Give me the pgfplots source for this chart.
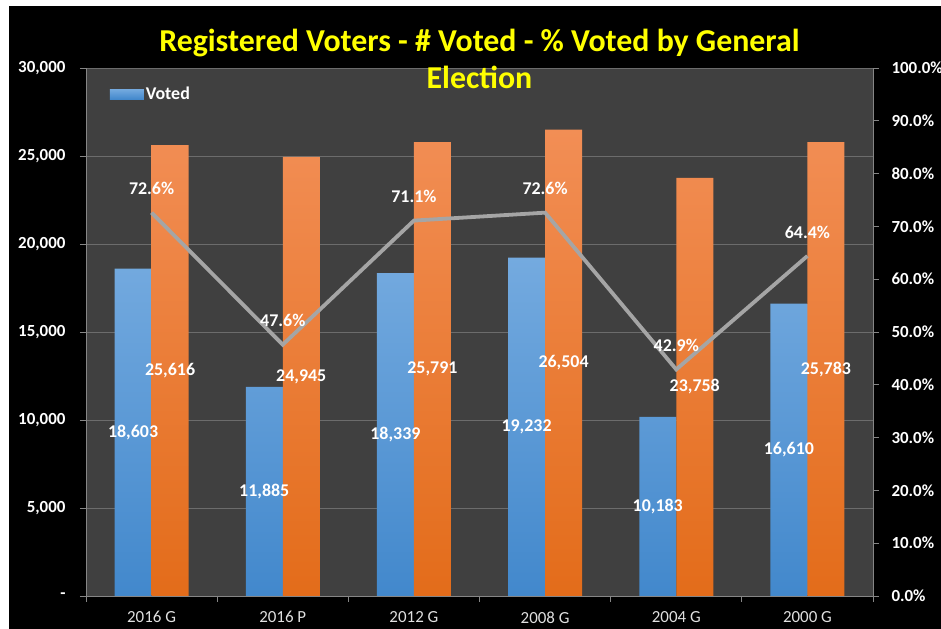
\documentclass[border=0pt]{standalone}
\usepackage{fontspec}
\setmainfont{Carlito}
\usepackage{pgfplots}
\usepackage{pgfplotstable}
\pgfplotsset{compat=1.18}
\pgfkeys{/pgf/number format/assume math mode=true}

\definecolor{plotbg}{RGB}{64,64,64}
\definecolor{gridc}{RGB}{108,108,108}
\definecolor{axisc}{RGB}{134,134,134}
\definecolor{bluetop}{RGB}{116,170,223}
\definecolor{bluebot}{RGB}{66,136,204}
\definecolor{orgtop}{RGB}{242,142,85}
\definecolor{orgbot}{RGB}{227,108,26}
\definecolor{linec}{RGB}{165,165,165}
\definecolor{titlec}{RGB}{255,255,0}

\pgfplotstableread{
x voted registered pct
0 18603 25616 72.6
1 11885 24945 47.6
2 18339 25791 71.1
3 19232 26504 72.6
4 10183 23758 42.9
5 16610 25783 64.4
}\elect

\begin{document}
\begin{tikzpicture}[x=1bp,y=1bp]
\useasboundingbox (0,0) rectangle (941,629);
\fill[white] (0,0) rectangle (941,629);
\fill[black] (9,0) rectangle (941,623);

\begin{axis}[
  at={(86bp,33bp)}, anchor=south west,
  width=787bp, height=528bp, scale only axis,
  axis background/.style={fill=plotbg},
  xmin=-0.5, xmax=5.5, ymin=0, ymax=30000,
  xtick={0,...,5},
  xticklabels={2016 G,2016 P,2012 G,2008 G,2004 G,2000 G},
  major x tick style={draw=none},
  minor xtick={-0.5,0.5,...,5.5},
  ytick={0,5000,...,30000},
  yticklabels={{-\hspace{14bp}},{5,000},{10,000},{15,000},{20,000},{25,000},{30,000}},
  scaled y ticks=false,
  tick align=outside,
  tick style={axisc, line width=0.8bp},
  major tick length=6bp, minor tick length=6bp,
  axis x line*=bottom, axis y line*=left,
  axis line style={axisc, line width=0.8bp, -},
  ymajorgrids, grid style={gridc, line width=0.9bp},
  xticklabel style={font=\fontsize{17}{19}\selectfont, text=white!88!black, yshift=-6bp},
  yticklabel style={font=\bfseries\fontsize{17}{19}\selectfont, text=white, xshift=-11bp},
  legend style={at={(0.030,0.968)}, anchor=north west, draw=none, fill=none,
    font=\bfseries\fontsize{18}{20}\selectfont, text=white,
    inner sep=0pt, cells={anchor=west}},
  legend image code/.code={\shade[top color=bluetop, bottom color=bluebot] (0bp,-5bp) rectangle (34bp,5bp);},
]
\addplot[ybar, bar width=37bp, bar shift=-18.5bp, draw=none,
  top color=bluetop, bottom color=bluebot] table[x=x, y=voted] {\elect};
\addlegendentry{Voted}
\addplot[ybar, bar width=37bp, bar shift=18.5bp, draw=none,
  top color=orgtop, bottom color=orgbot, forget plot] table[x=x, y=registered] {\elect};

% value labels at the middle of each bar
\addplot[draw=none, forget plot, point meta=\thisrow{voted},
  nodes near coords={\pgfmathprintnumber[fixed, precision=0, 1000 sep={,}]{\pgfplotspointmeta}},
  every node near coord/.append style={anchor=center, xshift=-18.5bp, text=white, font=\bfseries\fontsize{18}{20}\selectfont}]
  table[x=x, y expr=\thisrow{voted}/2] {\elect};
\addplot[draw=none, forget plot, point meta=\thisrow{registered},
  nodes near coords={\pgfmathprintnumber[fixed, precision=0, 1000 sep={,}]{\pgfplotspointmeta}},
  every node near coord/.append style={anchor=center, xshift=18.5bp, text=white, font=\bfseries\fontsize{18}{20}\selectfont}]
  table[x=x, y expr=\thisrow{registered}/2] {\elect};
\end{axis}

\begin{axis}[
  at={(86bp,33bp)}, anchor=south west,
  width=787bp, height=528bp, scale only axis,
  xmin=-0.5, xmax=5.5, ymin=0, ymax=100,
  axis x line=none, axis y line*=right,
  axis line style={axisc, line width=0.8bp, -},
  ytick={0,10,...,100},
  yticklabel={\pgfmathprintnumber[fixed, fixed zerofill, precision=1]{\tick}\%},
  tick align=outside,
  tick style={axisc, line width=0.8bp},
  major tick length=6bp,
  yticklabel style={font=\bfseries\fontsize{17}{19}\selectfont, text=white, anchor=west, xshift=9bp},
]
\addplot[linec, line width=3.8bp, mark=none, point meta=\thisrow{pct},
  nodes near coords={\pgfmathprintnumber[fixed, fixed zerofill, precision=1]{\pgfplotspointmeta}\%},
  every node near coord/.append style={anchor=center, yshift=24bp, text=white, font=\bfseries\fontsize{18}{20}\selectfont}]
  table[x=x, y=pct] {\elect};
\end{axis}

\node[text=titlec, font=\bfseries\fontsize{32}{38}\selectfont, align=center]
  at (479.5,570) {Registered Voters - \# Voted - \% Voted by General\\Election};
\end{tikzpicture}
\end{document}
